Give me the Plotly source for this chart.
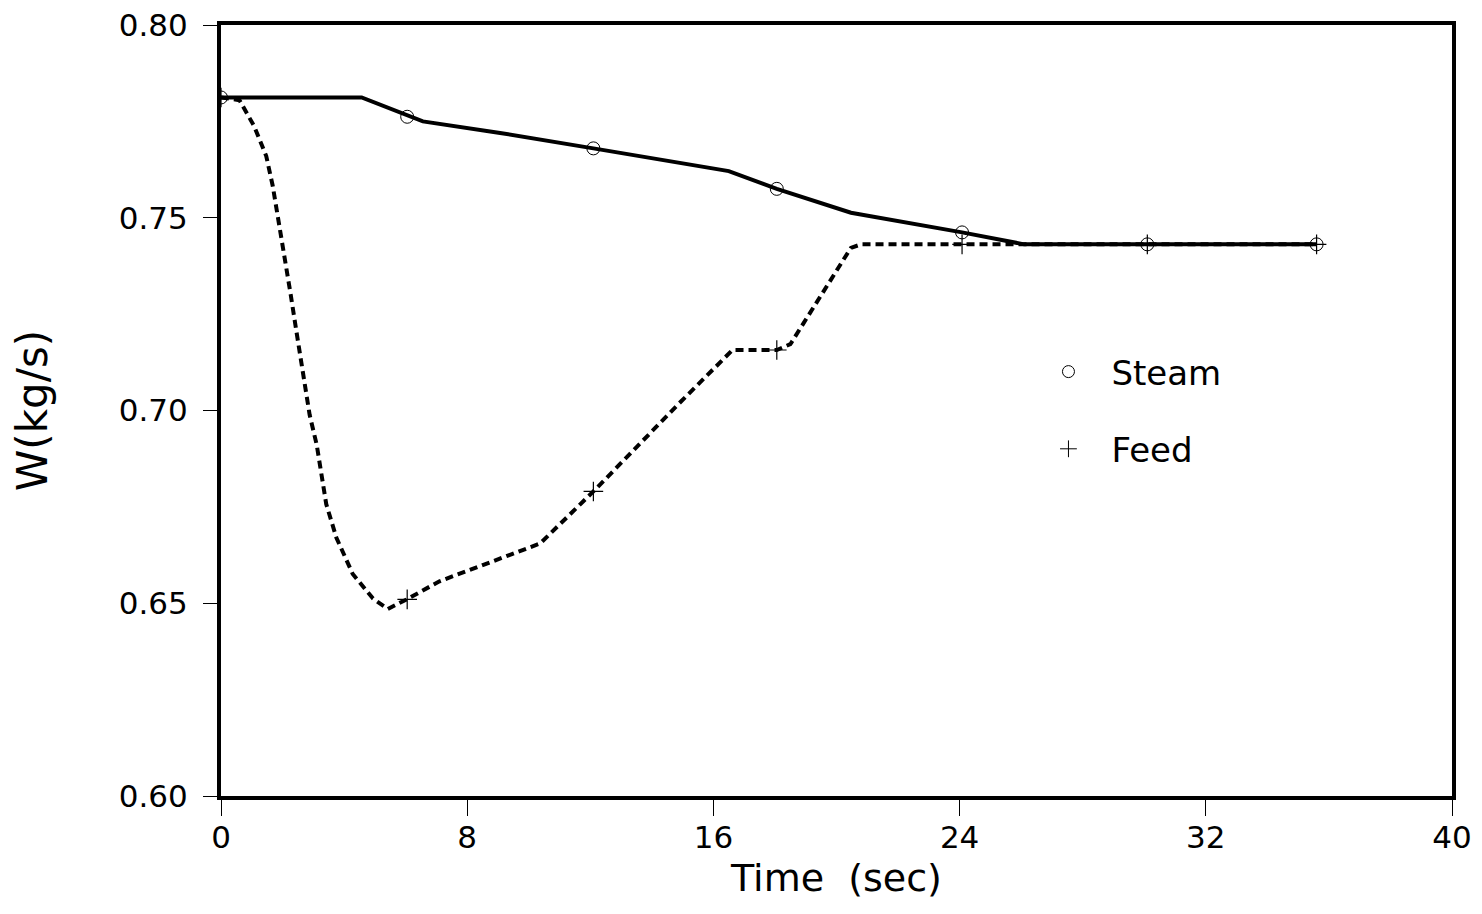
import plotly.graph_objects as go

# steam flow (solid line) - vertices
steam_t = [0, 4.57, 6.56, 9.07, 12.1, 14.0, 16.5, 18.06, 20.47, 24.08, 26.1, 35.6]
steam_w = [0.7812, 0.7812, 0.775, 0.772, 0.768, 0.7655, 0.7621, 0.7575, 0.7513, 0.7462, 0.7431, 0.7431]

# feed flow (dashed line)
feed_t = [0, 0.6, 1.08, 1.47, 1.68, 1.94, 2.26, 2.49, 2.88, 3.11, 3.42, 3.75, 4.28, 4.94, 5.42,
          6.03, 7.1, 10.37, 12.1, 14.93, 16.62, 18.06, 18.5, 20.47, 20.8, 35.6]
feed_w = [0.7812, 0.7805, 0.7737, 0.766, 0.7583, 0.7461, 0.7303, 0.7185, 0.6989, 0.6911, 0.6757,
          0.667, 0.6576, 0.6512, 0.6485, 0.651, 0.6557, 0.6655, 0.679, 0.7022, 0.7157, 0.7157,
          0.7172, 0.7422, 0.7431, 0.7431]

# symbols drawn on the curves
mark_t = [0, 6.05, 12.1, 18.06, 24.08, 30.1, 35.6]
steam_mark_w = [0.7812, 0.7762, 0.768, 0.7575, 0.7462, 0.7431, 0.7431]
feed_mark_w = [0.7812, 0.651, 0.679, 0.7157, 0.7431, 0.7431, 0.7431]

FONT = "DejaVu Sans"

fig = go.Figure()

fig.add_trace(go.Scatter(x=feed_t, y=feed_w, mode='lines', showlegend=False,
                         line=dict(color='black', width=4, dash='8px,5px')))
fig.add_trace(go.Scatter(x=steam_t, y=steam_w, mode='lines', showlegend=False,
                         line=dict(color='black', width=4)))
fig.add_trace(go.Scatter(x=mark_t, y=steam_mark_w, mode='markers', showlegend=False,
                         marker=dict(symbol='circle-open', size=13, color='black', line=dict(width=1))))
fig.add_trace(go.Scatter(x=mark_t, y=feed_mark_w, mode='markers', showlegend=False,
                         marker=dict(symbol='cross-thin-open', size=14, color='black', line=dict(width=1.2))))

# legend entries (symbols only)
fig.add_trace(go.Scatter(x=[None], y=[None], mode='markers', name='Steam', legendgroup='a',
                         marker=dict(symbol='circle-open', size=12, color='black', line=dict(width=1))))
fig.add_trace(go.Scatter(x=[None], y=[None], mode='markers', name='Feed', legendgroup='b',
                         marker=dict(symbol='cross-thin-open', size=12, color='black', line=dict(width=1))))

fig.update_xaxes(range=[0, 40], tickvals=[0, 8, 16, 24, 32, 40], ticks='outside', ticklen=16,
                 tickwidth=1.2, tickcolor='black', showline=True, linewidth=4, linecolor='black',
                 mirror=True, showgrid=False, zeroline=False, ticklabelstandoff=-5, automargin=False,
                 ticklabeloverflow='allow',
                 tickfont=dict(family=FONT, size=31, color='black'),
                 title=dict(text='Time  (sec)', font=dict(family=FONT, size=38, color='black'),
                            standoff=11))
fig.update_yaxes(range=[0.6, 0.8], tickvals=[0.60, 0.65, 0.70, 0.75, 0.80], tickformat='.2f',
                 ticks='outside', ticklen=14, tickwidth=1.2, tickcolor='black',
                 showline=True, linewidth=4, linecolor='black', mirror=True, showgrid=False,
                 zeroline=False, ticklabelstandoff=9, automargin=False,
                 ticklabeloverflow='allow',
                 tickfont=dict(family=FONT, size=31, color='black'),
                 title=dict(text='W(kg/s)', font=dict(family=FONT, size=42, color='black'),
                            standoff=60))

# page body has an 8px margin, so the figure is 16px smaller than the window
fig.update_layout(
    width=1466, height=898,
    margin=dict(l=213, r=22, t=17, b=110),
    plot_bgcolor='white', paper_bgcolor='white',
    legend=dict(x=0.6535, y=0.5, xanchor='left', yanchor='middle', traceorder='grouped',
                tracegroupgap=30, itemwidth=76, bgcolor='rgba(0,0,0,0)',
                font=dict(family=FONT, size=34, color='black')),
)

fig.write_html("out.html")
